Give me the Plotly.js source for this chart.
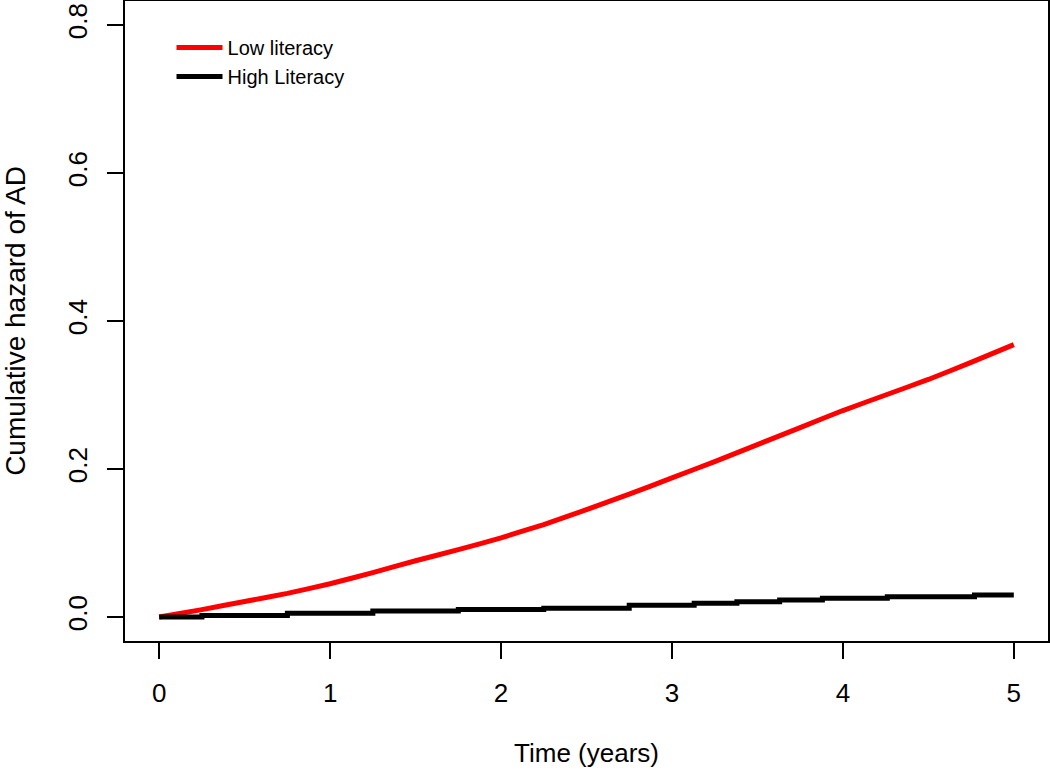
<!DOCTYPE html>
<html>
<head>
<meta charset="utf-8">
<script src="https://cdn.plot.ly/plotly-3.0.1.min.js"></script>
<style>html,body{margin:0;padding:0;background:#fff;}#chart{width:1050px;height:772px;}</style>
</head>
<body>
<div id="chart"></div>
<script>
// Time (years) for the smooth low-literacy curve
const lowTime = [0, 0.25, 0.5, 0.75, 1, 1.25, 1.5, 1.75, 2, 2.25, 2.5, 2.75, 3, 3.25, 3.5, 3.75, 4, 4.25, 4.5, 4.75, 5];
const lowHazard = [0, 0.010, 0.021, 0.032, 0.045, 0.060, 0.076, 0.091, 0.107, 0.125, 0.145, 0.166, 0.188, 0.210, 0.233, 0.256, 0.279, 0.300, 0.321, 0.344, 0.368];
// Step function for high literacy
const highTime = [0, 0.25, 0.75, 1.25, 1.75, 2.25, 2.75, 3.13, 3.38, 3.63, 3.88, 4.26, 4.77, 5.0];
const highHazard = [0, 0.002, 0.005, 0.008, 0.010, 0.012, 0.016, 0.0185, 0.0206, 0.0229, 0.0252, 0.0274, 0.0297, 0.0297];
const seriesNames = ["Low literacy", "High Literacy"];
const xTicks = [0, 1, 2, 3, 4, 5];
const yTicks = [0, 0.2, 0.4, 0.6, 0.8];
const yTickText = ["0.0", "0.2", "0.4", "0.6", "0.8"];

const font = "Liberation Sans, Arial, sans-serif";
const traces = [
  {x: lowTime, y: lowHazard, name: seriesNames[0], mode: "lines", line: {color: "#ff0000", width: 5, shape: "spline", smoothing: 0.3}},
  {x: highTime, y: highHazard, name: seriesNames[1], mode: "lines", line: {color: "#000000", width: 5, shape: "hv"}}
];
const layout = {
  width: 1050, height: 772,
  margin: {l: 125, r: 2, t: 1, b: 131},
  paper_bgcolor: "#fff", plot_bgcolor: "#fff",
  font: {family: font, color: "#000", size: 26},
  showlegend: true,
  legend: {x: 0.0504, y: 0.958, xanchor: "left", yanchor: "top", bgcolor: "rgba(0,0,0,0)",
           font: {size: 20, family: font}, itemwidth: 46, tracegroupgap: 0},
  xaxis: {range: [-0.2, 5.2], tickvals: xTicks, ticktext: xTicks.map(String), ticks: "outside", ticklen: 16, tickwidth: 2,
          tickcolor: "#000", showline: true, linecolor: "#000", linewidth: 2, mirror: true, showgrid: false, zeroline: false,
          tickfont: {size: 26}, ticklabelstandoff: 12,
          title: {text: "Time (years)", font: {size: 26}, standoff: 37}},
  yaxis: {range: [-0.0324, 0.8324], tickvals: yTicks, ticktext: yTickText, ticks: "outside", ticklen: 16, tickwidth: 2,
          tickcolor: "#000", showline: true, linecolor: "#000", linewidth: 2, mirror: true, showgrid: false, zeroline: false,
          tickangle: -90, tickfont: {size: 26}, ticklabelstandoff: 10,
          title: {text: "Cumulative hazard of AD", font: {size: 28}, standoff: 30}}
};
Plotly.newPlot("chart", traces, layout, {displayModeBar: false, staticPlot: true});
</script>
</body>
</html>
